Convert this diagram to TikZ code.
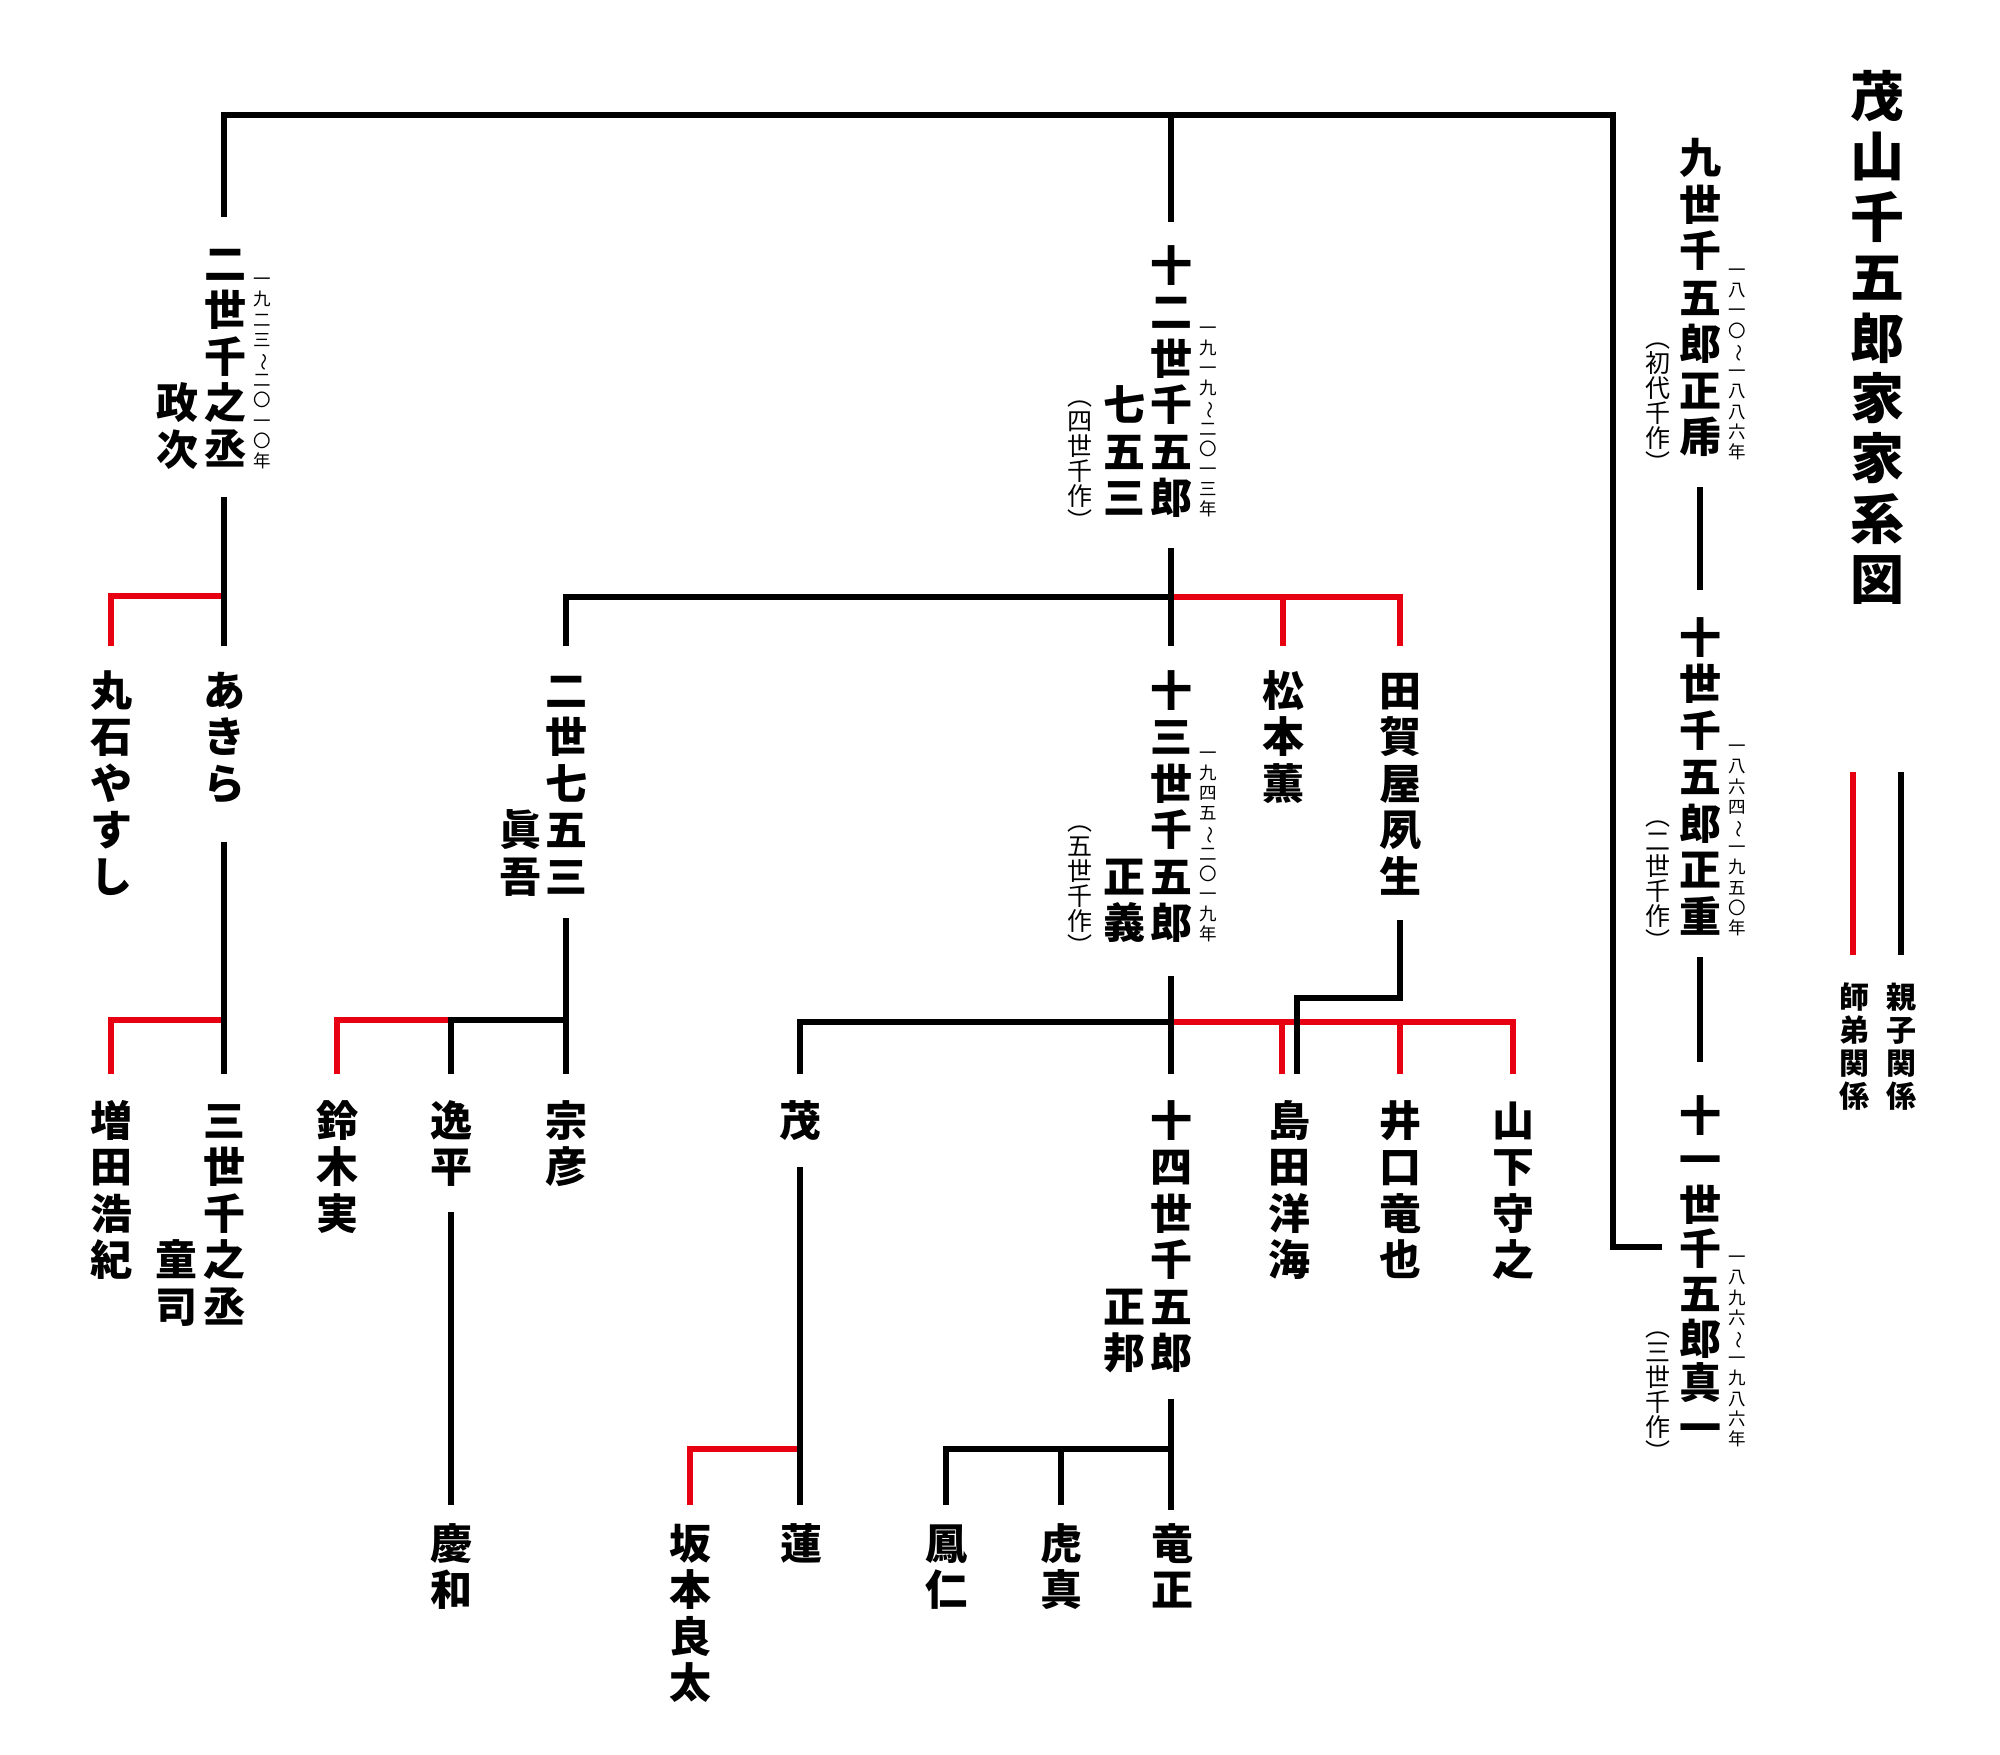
\documentclass[tikz,border=0pt]{standalone}
\usepackage{fontspec}
\newfontfamily\jp{Noto Sans CJK JP}
\definecolor{kred}{HTML}{E60012}
\newcommand{\vt}[1]{\parbox[t]{2.2em}{\centering\lineskiplimit=-\maxdimen\lineskip=0pt #1}}
\newcommand{\wv}{\rotatebox[origin=c]{-90}{〜}}
\begin{document}
\begin{tikzpicture}[x=1pt,y=-1pt,line join=miter,line cap=butt,
  blk/.style={line width=6.5pt,draw=black},
  rd/.style={line width=6.5pt,draw=kred},
  nm/.style={anchor=base,inner sep=0pt,font={\jp\bfseries\fontsize{42pt}{46.5pt}\selectfont},yshift=-16pt},
  nmt/.style={nm,font={\jp\bfseries\fontsize{42pt}{44.6pt}\selectfont}},
  ntitle/.style={anchor=base,inner sep=0pt,font={\jp\bfseries\fontsize{54pt}{60.4pt}\selectfont},yshift=-20.5pt},
  nd/.style={anchor=base,inner sep=0pt,font={\jp\fontsize{17.5pt}{20.2pt}\selectfont},yshift=-6.6pt},
  np/.style={anchor=base,inner sep=0pt,font={\jp\fontsize{25pt}{25pt}\selectfont},yshift=-9.5pt},
  nl/.style={anchor=base,inner sep=0pt,font={\jp\bfseries\fontsize{30pt}{33pt}\selectfont},yshift=-11.4pt}]
\fill[white] (0,0) rectangle (2000,1755);
\useasboundingbox (0,0) rectangle (2000,1755);

% ---------- title ----------
\node[ntitle] (title) at (1877,96) {\vt{茂\\山\\千\\五\\郎\\家\\家\\系\\図}};

% ---------- right column ----------
\node[nm] (n9) at (1700,158) {\vt{九\\世\\千\\五\\郎\\正\\乕}};
\node[nd] (d9) at (1737,270) {\vt{一\\八\\一\\〇\\\wv\\一\\八\\八\\六\\年}};
\node[np] (p9) at (1658,338) {\vt{︵\\初\\代\\千\\作\\︶}};
\node[nm] (n10) at (1700,637) {\vt{十\\世\\千\\五\\郎\\正\\重}};
\node[nd] (d10) at (1737,746) {\vt{一\\八\\六\\四\\\wv\\一\\九\\五\\〇\\年}};
\node[np] (p10) at (1658,816) {\vt{︵\\二\\世\\千\\作\\︶}};
\node[nmt] (n11) at (1700,1115) {\vt{十\\一\\世\\千\\五\\郎\\真\\一}};
\node[nd] (d11) at (1737,1257) {\vt{一\\八\\九\\六\\\wv\\一\\九\\八\\六\\年}};
\node[np] (p11) at (1658,1327) {\vt{︵\\三\\世\\千\\作\\︶}};

% ---------- left branch ----------
\node[nm] (nL2) at (225,263) {\vt{二\\世\\千\\之\\丞}};
\node[nm] (sL2) at (177,402.5) {\vt{政\\次}};
\node[nd] (dL2) at (262,279) {\vt{一\\九\\二\\三\\\wv\\二\\〇\\一\\〇\\年}};

% ---------- middle branch ----------
\node[nm] (n12) at (1171,265) {\vt{十\\二\\世\\千\\五\\郎}};
\node[nm] (s12) at (1124,404.5) {\vt{七\\五\\三}};
\node[nd] (d12) at (1208,327.5) {\vt{一\\九\\一\\九\\\wv\\二\\〇\\一\\三\\年}};
\node[np] (p12) at (1080,396) {\vt{︵\\四\\世\\千\\作\\︶}};

\node[nm] (n13) at (1171,690) {\vt{十\\三\\世\\千\\五\\郎}};
\node[nm] (s13) at (1124,876) {\vt{正\\義}};
\node[nd] (d13) at (1208,752.5) {\vt{一\\九\\四\\五\\\wv\\二\\〇\\一\\九\\年}};
\node[np] (p13) at (1080,821) {\vt{︵\\五\\世\\千\\作\\︶}};

\node[nm] (n14) at (1171,1120) {\vt{十\\四\\世\\千\\五\\郎}};
\node[nm] (s14) at (1124,1306) {\vt{正\\邦}};

% ---------- row 1 ----------
\node[nm] (maru) at (111,690) {\vt{丸\\石\\や\\す\\し}};
\node[nm] (akira) at (224,690) {\vt{あ\\き\\ら}};
\node[nm] (nana2) at (566,690) {\vt{二\\世\\七\\五\\三}};
\node[nm] (shingo) at (520,829.5) {\vt{眞\\吾}};
\node[nm] (matsu) at (1283,690) {\vt{松\\本\\薫}};
\node[nm] (taga) at (1400,690) {\vt{田\\賀\\屋\\夙\\生}};

% ---------- row 2 ----------
\node[nm] (masuda) at (111,1120) {\vt{増\\田\\浩\\紀}};
\node[nm] (sen3) at (224,1120) {\vt{三\\世\\千\\之\\丞}};
\node[nm] (doji) at (176,1259.5) {\vt{童\\司}};
\node[nm] (suzuki) at (337,1120) {\vt{鈴\\木\\実}};
\node[nm] (ippei) at (451,1120) {\vt{逸\\平}};
\node[nm] (mune) at (566,1120) {\vt{宗\\彦}};
\node[nm] (shige) at (800,1120) {\vt{茂}};
\node[nm] (shima) at (1289,1120) {\vt{島\\田\\洋\\海}};
\node[nm] (iguchi) at (1400,1120) {\vt{井\\口\\竜\\也}};
\node[nm] (yama) at (1513,1120) {\vt{山\\下\\守\\之}};

% ---------- row 3 ----------
\node[nm] (keiwa) at (451,1543) {\vt{慶\\和}};
\node[nm] (saka) at (690,1543) {\vt{坂\\本\\良\\太}};
\node[nm] (ren) at (801,1543) {\vt{蓮}};
\node[nm] (hojin) at (946,1543) {\vt{鳳\\仁}};
\node[nm] (tora) at (1061,1543) {\vt{虎\\真}};
\node[nm] (ryu) at (1172,1543) {\vt{竜\\正}};

% ---------- legend ----------
\node[nl] (leg1) at (1854,997) {\vt{師\\弟\\関\\係}};
\node[nl] (leg2) at (1901,997) {\vt{親\\子\\関\\係}};
\coordinate (lr1) at (1853,772); \coordinate (lr2) at (1853,955);
\coordinate (lb1) at (1901,772); \coordinate (lb2) at (1901,955);
\draw[rd] (lr1) -- (lr2);
\draw[blk] (lb1) -- (lb2);

% ---------- coordinates ----------
\coordinate (tL) at (224,115); \coordinate (tM) at (1171,115);
\coordinate (tR) at (1613,115); \coordinate (rC) at (1613,1247);
\coordinate (rE) at (1662,1247);
\coordinate (aL2) at (224,217); \coordinate (a12) at (1171,222);
\coordinate (b9) at (1700,487); \coordinate (a10) at (1700,590);
\coordinate (b10) at (1700,957); \coordinate (a11) at (1700,1062);
% left
\coordinate (bL2) at (224,497); \coordinate (jL1) at (224,596);
\coordinate (eAk) at (224,646); \coordinate (jL1r) at (111,596);
\coordinate (eMa) at (111,646);
\coordinate (bAk) at (224,842); \coordinate (jL2) at (224,1020);
\coordinate (eSen) at (224,1074); \coordinate (jL2r) at (111,1020);
\coordinate (eMas) at (111,1074);
% middle 12
\coordinate (b12) at (1171,548); \coordinate (j12) at (1171,597);
\coordinate (e13) at (1171,646); \coordinate (j12l) at (566,597);
\coordinate (eNa) at (566,646);
\coordinate (j12m) at (1283,597); \coordinate (eMt) at (1283,646);
\coordinate (j12t) at (1400,597); \coordinate (eTg) at (1400,646);
% nana2
\coordinate (bNa) at (566,918); \coordinate (jNa) at (566,1020);
\coordinate (eMu) at (566,1074); \coordinate (jNaI) at (451,1020);
\coordinate (eIp) at (451,1074); \coordinate (jNaS) at (337,1020);
\coordinate (eSz) at (337,1074);
% middle 13
\coordinate (b13) at (1171,976); \coordinate (j13) at (1171,1022);
\coordinate (e14) at (1171,1074); \coordinate (j13l) at (800,1022);
\coordinate (eSh) at (800,1074);
\coordinate (j13a) at (1282,1022); \coordinate (eSm) at (1282,1074);
\coordinate (j13b) at (1400,1022); \coordinate (eIg) at (1400,1074);
\coordinate (j13c) at (1513,1022); \coordinate (eYm) at (1513,1074);
% taga
\coordinate (bTg) at (1400,920); \coordinate (kTg1) at (1400,998);
\coordinate (kTg2) at (1297,998); \coordinate (eTg2) at (1297,1074);
% shigeru
\coordinate (bSh) at (800,1167); \coordinate (jSh) at (800,1449);
\coordinate (eRn) at (800,1505); \coordinate (jShS) at (690,1449);
\coordinate (eSk) at (690,1505);
% ippei
\coordinate (bIp) at (451,1212); \coordinate (eKw) at (451,1505);
% 14
\coordinate (b14) at (1171,1399); \coordinate (j14) at (1171,1449);
\coordinate (eRy) at (1171,1510); \coordinate (j14h) at (946,1449);
\coordinate (eHo) at (946,1505); \coordinate (j14t) at (1061,1449);
\coordinate (eTo) at (1061,1505);

% ---------- red connectors ----------
\draw[rd] (jL1) -- (jL1r) -- (eMa);
\draw[rd] (jL2) -- (jL2r) -- (eMas);
\draw[rd] (j12) -- (j12t) -- (eTg);
\draw[rd] (j12m) -- (eMt);
\draw[rd] (jNaI) -- (jNaS) -- (eSz);
\draw[rd] (j13) -- (j13c) -- (eYm);
\draw[rd] (j13a) -- (eSm);
\draw[rd] (j13b) -- (eIg);
\draw[rd] (jSh) -- (jShS) -- (eSk);

% ---------- black connectors ----------
\draw[blk] (aL2) -- (tL) -- (tR) -- (rC) -- (rE);
\draw[blk] (tM) -- (a12);
\draw[blk] (b9) -- (a10);
\draw[blk] (b10) -- (a11);
\draw[blk] (bL2) -- (eAk);
\draw[blk] (bAk) -- (eSen);
\draw[blk] (b12) -- (e13);
\draw[blk] (eNa) -- (j12l) -- (j12);
\draw[blk] (bNa) -- (eMu);
\draw[blk] (eIp) -- (jNaI) -- (jNa);
\draw[blk] (b13) -- (e14);
\draw[blk] (eSh) -- (j13l) -- (j13);
\draw[blk] (bTg) -- (kTg1) -- (kTg2) -- (eTg2);
\draw[blk] (bSh) -- (eRn);
\draw[blk] (bIp) -- (eKw);
\draw[blk] (b14) -- (eRy);
\draw[blk] (eHo) -- (j14h) -- (j14);
\draw[blk] (j14t) -- (eTo);
\end{tikzpicture}
\end{document}
